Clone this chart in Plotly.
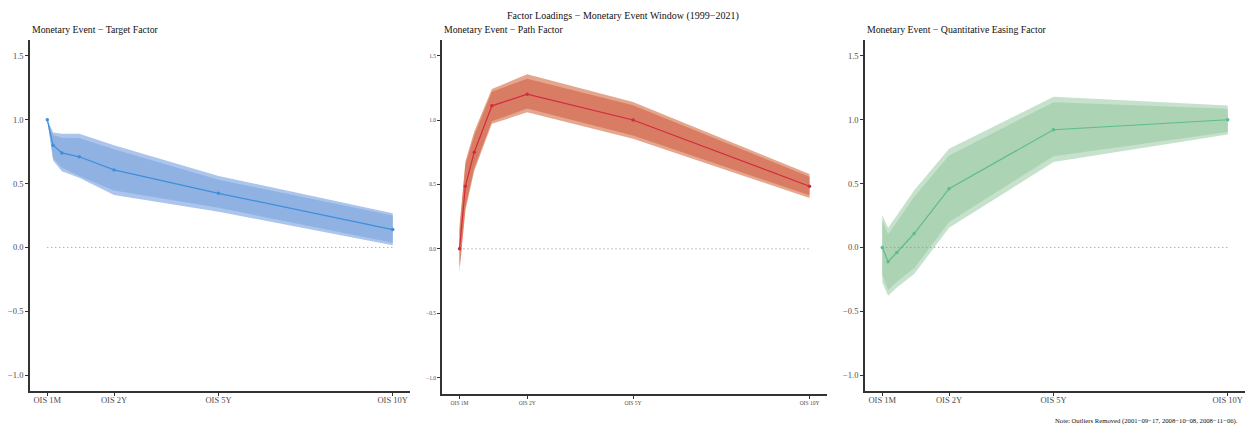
import plotly.graph_objects as go

# maturities (years) and labels
maturity_labels = ["OIS 1M", "OIS 3M", "OIS 6M", "OIS 1Y", "OIS 2Y", "OIS 5Y", "OIS 10Y"]
maturity_years = [1/12, 0.25, 0.5, 1, 2, 5, 10]
tick_years = [1/12, 2, 5, 10]
tick_labels = ["OIS 1M", "OIS 2Y", "OIS 5Y", "OIS 10Y"]

# Target factor
target_est = [1.00, 0.80, 0.74, 0.71, 0.607, 0.424, 0.14]
target_in_hi = [1.00, 0.88, 0.86, 0.857, 0.77, 0.53, 0.25]
target_in_lo = [1.00, 0.70, 0.625, 0.56, 0.445, 0.31, 0.037]
target_out_hi = [1.00, 0.90, 0.89, 0.89, 0.80, 0.56, 0.268]
target_out_lo = [1.00, 0.68, 0.596, 0.545, 0.41, 0.28, 0.016]

# Path factor
path_est = [0.00, 0.486, 0.75, 1.11, 1.20, 1.00, 0.486]
path_in_hi = [0.14, 0.65, 0.88, 1.22, 1.32, 1.115, 0.56]
path_in_lo = [-0.14, 0.325, 0.63, 0.99, 1.09, 0.88, 0.415]
path_out_hi = [0.18, 0.68, 0.91, 1.24, 1.356, 1.14, 0.58]
path_out_lo = [-0.18, 0.295, 0.605, 0.97, 1.06, 0.855, 0.395]

# QE factor
qe_est = [0.00, -0.112, -0.04, 0.109, 0.46, 0.922, 1.00]
qe_in_hi = [0.21, 0.104, 0.20, 0.396, 0.72, 1.138, 1.086]
qe_in_lo = [-0.216, -0.333, -0.27, -0.164, 0.20, 0.714, 0.904]
qe_out_hi = [0.253, 0.154, 0.25, 0.448, 0.773, 1.18, 1.112]
qe_out_lo = [-0.276, -0.378, -0.315, -0.208, 0.154, 0.669, 0.885]

panel_titles = ["Monetary Event − Target Factor", "Monetary Event − Path Factor",
                "Monetary Event − Quantitative Easing Factor"]
main_title = "Factor Loadings − Monetary Event Window (1999−2021)"
note_text = "Note: Outliers Removed (2001−09−17, 2008−10−08, 2008−11−06)."

panels = [
    dict(est=target_est, ih=target_in_hi, il=target_in_lo, oh=target_out_hi, ol=target_out_lo,
         line="#3d8fdb", inner="rgba(144,178,226,1)", outer="rgba(172,197,236,1)"),
    dict(est=path_est, ih=path_in_hi, il=path_in_lo, oh=path_out_hi, ol=path_out_lo,
         line="#d42a3c", inner="rgba(216,125,99,1)", outer="rgba(229,166,142,1)"),
    dict(est=qe_est, ih=qe_in_hi, il=qe_in_lo, oh=qe_out_hi, ol=qe_out_lo,
         line="#5cbd8c", inner="rgba(173,211,181,1)", outer="rgba(198,226,204,1)"),
]

W, H = 1253, 427
x_dom_px = [(30, 410), (442, 827), (865, 1245)]
y_dom_px = [(40, 391), (39.5, 393.7), (40, 391)]
tick_sizes = [8.5, 5.5, 8.5]
x_standoffs = [-3, 0, -3]

FONT = "Liberation Serif, Times New Roman, serif"
fig = go.Figure()

for i, p in enumerate(panels):
    xa = "x" if i == 0 else f"x{i+1}"
    ya = "y" if i == 0 else f"y{i+1}"
    xs = maturity_years
    xr = xs + xs[::-1]
    fig.add_trace(go.Scatter(x=xr, y=p["oh"] + p["ol"][::-1], fill="toself", mode="none",
                             fillcolor=p["outer"], xaxis=xa, yaxis=ya, hoverinfo="skip"))
    fig.add_trace(go.Scatter(x=xr, y=p["ih"] + p["il"][::-1], fill="toself", mode="none",
                             fillcolor=p["inner"], xaxis=xa, yaxis=ya, hoverinfo="skip"))
    fig.add_trace(go.Scatter(x=[xs[0], xs[-1]], y=[0, 0], mode="lines",
                             line=dict(color="#8a8a8a", width=1, dash="1px,3px"),
                             xaxis=xa, yaxis=ya, hoverinfo="skip"))
    fig.add_trace(go.Scatter(x=xs, y=p["est"], mode="lines+markers",
                             line=dict(color=p["line"], width=1.2),
                             marker=dict(color=p["line"], size=3.5),
                             xaxis=xa, yaxis=ya, text=maturity_labels))

    axis_common = dict(showline=True, linecolor="#333333", linewidth=1.6, ticks="outside",
                       ticklen=3, tickcolor="#333333", tickwidth=1, showgrid=False,
                       zeroline=False, tickfont=dict(family=FONT, size=tick_sizes[i], color="#4d4d4d"))
    x0, x1 = x_dom_px[i]
    y0, y1 = y_dom_px[i]
    fig.layout[("xaxis" if i == 0 else f"xaxis{i+1}")] = dict(
        domain=[x0 / W, x1 / W], anchor=ya, range=[-0.413, 10.496],
        tickvals=tick_years, ticktext=tick_labels, ticklabelstandoff=x_standoffs[i],
        **axis_common)
    fig.layout[("yaxis" if i == 0 else f"yaxis{i+1}")] = dict(
        domain=[1 - y1 / H, 1 - y0 / H], anchor=xa, range=[-1.125, 1.625],
        tickvals=[-1, -0.5, 0, 0.5, 1, 1.5], tickformat=".1f", **axis_common)
    fig.add_annotation(text=panel_titles[i], x=x0 / W, y=1 - 30 / H, xref="paper", yref="paper",
                       xanchor="left", yanchor="middle", showarrow=False,
                       font=dict(family=FONT, size=9.8, color="#111111"))

fig.add_annotation(text=main_title, x=623 / W, y=1 - 16 / H, xref="paper", yref="paper",
                   xanchor="center", yanchor="middle", showarrow=False,
                   font=dict(family=FONT, size=10, color="#111111"))
fig.add_annotation(text=note_text, x=1240 / W, y=1 - 421 / H, xref="paper", yref="paper",
                   xanchor="right", yanchor="middle", showarrow=False,
                   font=dict(family=FONT, size=6.7, color="#111111"))

fig.update_layout(width=W, height=H, margin=dict(l=0, r=0, t=0, b=0),
                  showlegend=False, paper_bgcolor="white", plot_bgcolor="white",
                  font=dict(family=FONT))

fig.write_html("out.html", config={"displayModeBar": False},
               post_script="document.body.style.margin='0';document.body.style.padding='0';"
                           "document.body.style.overflow='hidden';")
